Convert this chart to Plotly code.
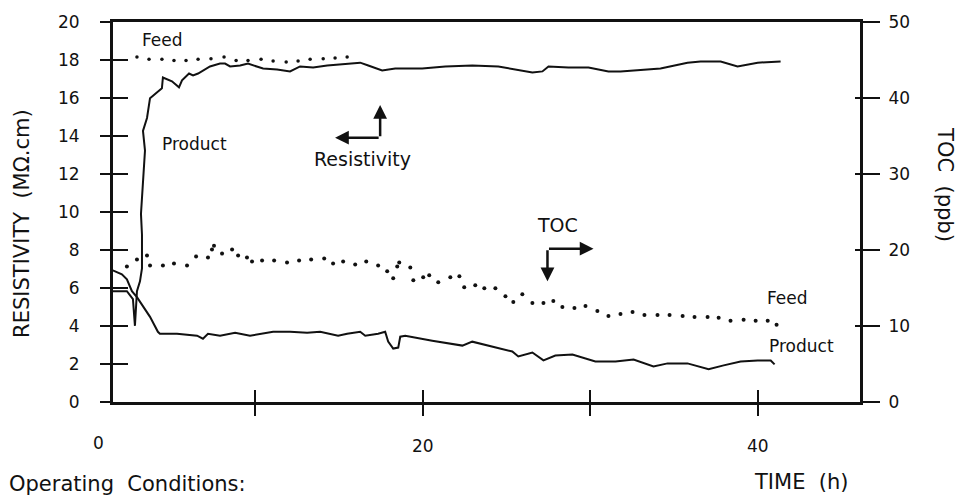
import plotly.graph_objects as go

# ---- data (time in h) ----
res_feed_t = [2.93, 3.65, 4.42, 5.14, 5.86, 6.58, 7.35, 8.13, 8.85, 9.56, 10.34, 11.06, 11.84, 12.55, 13.27, 14.05, 14.76, 15.48]
res_feed = [18.16, 18.04, 18.04, 17.98, 17.98, 18.04, 18.07, 18.16, 17.98, 17.98, 18.04, 17.95, 17.90, 17.95, 18.04, 18.07, 18.11, 18.16]

res_prod_t = [1.49, 2.33, 2.69, 2.81, 2.93, 3.11, 3.23, 3.23, 3.17, 3.29, 3.41, 3.29, 3.53, 3.71, 4.42, 4.48, 5.02, 5.44, 5.62, 6.04,
              6.28, 6.58, 7.29, 7.89, 8.19, 8.49, 9.09, 9.56, 10.46, 11.30, 12.07, 12.67, 13.45, 14.29, 15.48, 16.26, 16.74, 17.57, 18.35, 19.96,
              21.34, 22.95, 24.51, 25.52, 26.54, 27.14, 27.50, 28.69, 29.89, 31.08, 31.80, 34.19, 35.80, 36.58, 37.78, 38.79, 39.99, 41.36]
res_prod = [5.83, 5.83, 5.42, 4.01, 5.83, 6.35, 7.03, 8.80, 9.90, 11.82, 13.23, 14.27, 14.95, 15.99, 16.51, 17.08, 16.88, 16.56, 16.93, 17.29,
            17.19, 17.29, 17.66, 17.81, 17.81, 17.66, 17.71, 17.81, 17.55, 17.50, 17.40, 17.66, 17.60, 17.71, 17.81, 17.86, 17.71, 17.45, 17.55, 17.55,
            17.66, 17.71, 17.66, 17.50, 17.34, 17.40, 17.66, 17.60, 17.60, 17.40, 17.40, 17.55, 17.86, 17.92, 17.92, 17.66, 17.86, 17.92]

toc_feed_t = [2.33, 2.93, 3.53, 3.71, 4.48, 5.14, 5.92, 6.46, 7.17, 7.41, 7.53, 8.01, 8.61, 8.97, 9.50, 9.80, 10.40, 11.12, 11.89, 12.61,
              13.33, 14.11, 14.64, 15.24, 15.96, 16.62, 17.33, 17.87, 18.23, 18.47, 18.59, 19.25, 19.43, 20.02, 20.38, 20.92, 21.64, 22.18, 22.47, 23.13,
              23.67, 24.33, 24.93, 25.40, 25.94, 26.54, 27.20, 27.79, 28.33, 29.05, 29.71, 30.42, 31.08, 31.80, 32.52, 33.23, 34.01, 34.73, 35.51, 36.22,
              37.00, 37.66, 38.37, 39.15, 39.87, 40.59, 41.12]
toc_feed = [17.84, 18.75, 19.27, 17.97, 17.97, 18.23, 17.97, 19.14, 19.01, 20.05, 20.57, 19.53, 20.05, 19.27, 19.01, 18.49, 18.62, 18.62, 18.36, 18.62,
            18.75, 18.88, 18.23, 18.49, 18.10, 18.49, 17.97, 17.19, 16.28, 17.84, 18.36, 17.71, 16.02, 16.41, 16.67, 15.76, 16.41, 16.54, 15.10, 15.36,
            14.97, 14.97, 13.93, 13.15, 14.19, 13.02, 13.02, 13.28, 12.50, 12.37, 12.63, 11.98, 11.33, 11.59, 11.85, 11.46, 11.46, 11.46, 11.33, 11.20,
            11.20, 11.07, 10.68, 10.81, 10.68, 10.68, 10.16]

toc_prod_t = [1.49, 2.03, 2.33, 2.63, 2.93, 3.29, 3.71, 4.18, 4.30, 5.32, 6.52, 6.87, 7.17, 7.89, 8.79, 9.68, 11.06, 12.07, 13.09, 13.87,
              14.94, 15.48, 16.26, 16.56, 17.33, 17.75, 17.93, 18.23, 18.53, 18.65, 18.95, 20.56, 22.36, 22.95, 23.91, 25.34, 25.70, 26.12, 26.54, 27.20,
              27.91, 28.93, 30.30, 31.50, 32.58, 33.77, 34.61, 35.80, 37.06, 37.96, 38.97, 39.99, 40.77, 41.00]
toc_prod = [17.32, 16.80, 16.15, 14.58, 13.80, 12.63, 11.20, 9.24, 8.98, 8.98, 8.72, 8.33, 8.98, 8.72, 9.11, 8.72, 9.24, 9.24, 9.11, 9.24,
            8.72, 8.98, 9.24, 8.72, 8.98, 9.24, 7.94, 7.03, 7.16, 8.59, 8.72, 8.07, 7.42, 7.94, 7.42, 6.64, 5.99, 6.25, 6.51, 5.47,
            6.12, 6.25, 5.34, 5.34, 5.60, 4.69, 5.08, 5.08, 4.30, 4.82, 5.34, 5.47, 5.47, 4.95]

x_tickvals = [10, 20, 30, 40]
x_ticktext = ["", "20", "", "40"]
res_ticks = [0, 2, 4, 6, 8, 10, 12, 14, 16, 18, 20]
toc_ticks = [0, 10, 20, 30, 40, 50]

X_RANGE = [1.5, 46.1]
RES_RANGE = [0, 20]
TOC_RANGE = [0, 50]

FONT = "DejaVu Sans"
BLACK = "#111111"

fig = go.Figure()
fig.add_trace(go.Scatter(x=res_feed_t, y=res_feed, mode="markers",
                         marker=dict(size=3.5, color=BLACK), showlegend=False, hoverinfo="skip"))
fig.add_trace(go.Scatter(x=res_prod_t, y=res_prod, mode="lines",
                         line=dict(color=BLACK, width=2), showlegend=False, hoverinfo="skip"))
fig.add_trace(go.Scatter(x=toc_feed_t, y=toc_feed, mode="markers", yaxis="y2",
                         marker=dict(size=4, color=BLACK), showlegend=False, hoverinfo="skip"))
fig.add_trace(go.Scatter(x=toc_prod_t, y=toc_prod, mode="lines", yaxis="y2",
                         line=dict(color=BLACK, width=2), showlegend=False, hoverinfo="skip"))
# empty traces so the overlay tick axes get drawn
fig.add_trace(go.Scatter(x=[None], y=[None], xaxis="x2", yaxis="y", showlegend=False, hoverinfo="skip"))
fig.add_trace(go.Scatter(x=[None], y=[None], xaxis="x", yaxis="y3", showlegend=False, hoverinfo="skip"))
fig.add_trace(go.Scatter(x=[None], y=[None], xaxis="x", yaxis="y4", showlegend=False, hoverinfo="skip"))

tickfont = dict(family=FONT, size=17, color=BLACK)

fig.update_layout(
    width=964, height=500,
    margin=dict(l=113, r=104, t=18, b=98),
    paper_bgcolor="white", plot_bgcolor="white",
    font=dict(family=FONT, color=BLACK),
    xaxis=dict(range=X_RANGE, showgrid=False, zeroline=False, showline=True, linecolor=BLACK, linewidth=2.5,
               mirror=True, ticks="outside", ticklen=11, tickwidth=2, tickcolor=BLACK,
               tickvals=x_tickvals, ticktext=x_ticktext, tickfont=tickfont, ticklabelstandoff=16),
    xaxis2=dict(range=X_RANGE, overlaying="x", anchor="y", side="bottom", showgrid=False, zeroline=False,
                showline=False, ticks="inside", ticklen=12, tickwidth=2, tickcolor=BLACK,
                tickvals=x_tickvals, showticklabels=False),
    yaxis=dict(range=RES_RANGE, showgrid=False, zeroline=False, showline=True, linecolor=BLACK, linewidth=3,
               ticks="outside", ticklen=10, tickwidth=2, tickcolor=BLACK, tickvals=res_ticks,
               tickfont=tickfont, ticklabelstandoff=17),
    yaxis3=dict(range=RES_RANGE, overlaying="y", anchor="x", side="left", showgrid=False, zeroline=False,
                showline=False, ticks="inside", ticklen=15, tickwidth=2, tickcolor=BLACK,
                tickvals=res_ticks[1:-1], showticklabels=False),
    yaxis2=dict(range=TOC_RANGE, overlaying="y", anchor="x", side="right", showgrid=False, zeroline=False,
                showline=True, linecolor=BLACK, linewidth=3, ticks="outside", ticklen=17, tickwidth=2,
                tickcolor=BLACK, tickvals=toc_ticks, tickfont=tickfont, ticklabelstandoff=5),
    yaxis4=dict(range=TOC_RANGE, overlaying="y", anchor="x", side="right", showgrid=False, zeroline=False,
                showline=False, ticks="inside", ticklen=5, tickwidth=2, tickcolor=BLACK,
                tickvals=toc_ticks[1:-1], showticklabels=False),
)

def label(text, x, y, size, yref="y"):
    fig.add_annotation(text=text, x=x, y=y, xref="x", yref=yref, showarrow=False,
                       font=dict(family=FONT, size=size, color=BLACK), xanchor="center", yanchor="middle")

label("Feed", 4.48, 19.06, 17)
label("Product", 6.34, 13.59, 17)
label("Resistivity", 16.38, 12.81, 19)
label("TOC", 28.03, 9.32, 19)
label("Feed", 41.78, 5.47, 17)
label("Product", 42.62, 2.97, 17)

def arrow(x, y, ax, ay):
    fig.add_annotation(text="", x=x, y=y, ax=ax, ay=ay, xref="x", yref="y", axref="x", ayref="y",
                       showarrow=True, arrowhead=2, arrowsize=1.1, arrowwidth=2.5, arrowcolor=BLACK, standoff=0)

# Resistivity: read on left axis / vertical axis
arrow(14.76, 13.91, 17.45, 13.91)
arrow(17.45, 15.63, 17.45, 13.91)
# TOC: read on right axis
arrow(27.44, 6.35, 27.44, 8.07)
arrow(30.19, 8.07, 27.44, 8.07)

def paper_text(text, x, y, size, angle=0, xanchor="center"):
    fig.add_annotation(text=text, x=x, y=y, xref="paper", yref="paper", showarrow=False, textangle=angle,
                       font=dict(family=FONT, size=size, color=BLACK), xanchor=xanchor, yanchor="middle")

paper_text("0", -0.020, -0.107, 17)
paper_text("RESISTIVITY  (MΩ.cm)", -0.122, 0.471, 21, angle=-90)
paper_text("TOC  (ppb)", 1.114, 0.573, 21, angle=90)
paper_text("TIME  (h)", 0.921, -0.211, 21)
paper_text("Operating  Conditions:", -0.142, -0.216, 21, xanchor="left")

fig.write_html("out.html")
